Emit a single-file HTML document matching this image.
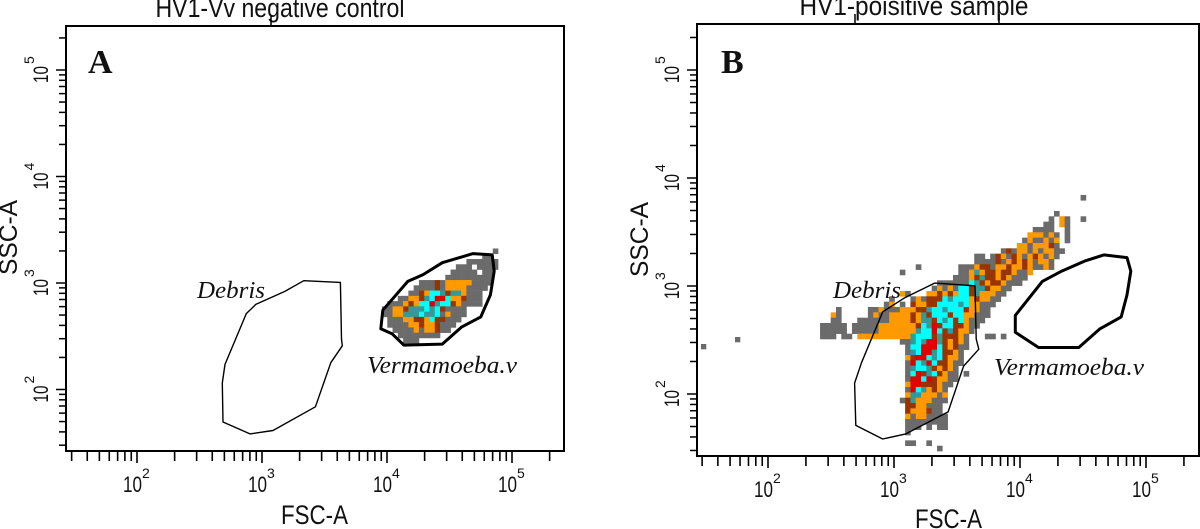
<!DOCTYPE html>
<html><head><meta charset="utf-8"><style>
html,body{margin:0;padding:0;background:#fff;}
svg{display:block;}
</style></head><body>
<svg id="fig" width="1200" height="529" viewBox="0 0 1200 529" xmlns="http://www.w3.org/2000/svg" font-family="Liberation Sans, sans-serif"></svg>
<script>
// ---- data (log10 units) ----
const xTickExponents = ['2','3','4','5'];
const yTickExponents = ['2','3','4','5'];
const tickDecades = [1,2,3,4,5];
const tickMultipliers = [1,2,3,4,5,6,7,8,9];
const tickMin = 30, tickMax = 200000;

const debrisGateA_x = [3.334,3.627,3.636,3.642,3.550,3.427,3.088,2.904,2.688,2.682,2.704,2.874,2.950,3.181];
const debrisGateA_y = [3.022,3.006,2.474,2.410,2.252,1.838,1.615,1.583,1.695,2.061,2.236,2.713,2.799,2.920];
const vermGateA_x = [4.689,4.842,4.858,4.827,4.750,4.596,4.442,4.134,4.042,3.950,3.966,4.166,4.289,4.442];
const vermGateA_y = [3.276,3.264,3.111,2.888,2.682,2.586,2.426,2.417,2.522,2.570,2.745,3.015,3.079,3.191];
const debrisGateB_x = [3.322,3.643,3.652,3.673,3.552,3.429,3.094,2.910,2.697,2.687,2.742,2.910,3.078];
const debrisGateB_y = [3.027,3.002,2.509,2.415,2.258,1.834,1.631,1.583,1.709,2.101,2.290,2.760,2.886];
const vermGateB_x = [4.666,4.849,4.879,4.849,4.803,4.635,4.467,4.147,3.963,3.963,4.177,4.329,4.513];
const vermGateB_y = [3.288,3.263,3.137,2.918,2.714,2.604,2.431,2.431,2.572,2.728,3.043,3.137,3.231];

// density grid: origin (log x, log y top), bin size in log units; codes g o b t c r
const binDx = 0.0422, binDy = 0.0494;
const gridA_origin = [3.960, 3.324];
const gridA_rows = [
"21:g","19:gg","16:gggggg","14:ggg.gggg","13:ggggg.gg","12:ggggggggg",
"7:gggbgooooogggg","6:ggggbgoooogggg","5:ggbocctbttoggg","3:ggoobtcrrcoobggg",
"1:gggoboccrtccbogggg","0:ggoobtttctcbgggg","0:ggootttcttcgoggg","1:gggoobbocbbggg",
"1:ggggooboobggg","2:ggggogoobgg","3:gggggggg","4:ggg"];
const gridB_origin = [2.413, 3.843];
const gridB_rows = [
"49:g","","","44:g","43:g 45:og 49:g","42:gg 45:og","40:gggg 46:g","39:ooogog.g",
"38:goggogo.g","37:oogooobg","34:gbgoogogoogg","29:gg.gbogbogobogog","29:ggggbgobobogoog",
"18:g 26:gggobbgoobooboggog","15:g 26:ggotobbobboggo","25:gggobtbboboggg","22:ggggggctbobboggg",
"21:gogogccbttboogg","15:og 20:ooboboccbtooogg","13:g 17:gogbbbctcccoboogg","12:go.g.boobbcccctcooggg",
"3:g 9:ggogggooobbtcctcccboogg","2:og 9:goggoooobotbcccbccooggg","2:gg 7:ggggggoooobottbctcbcoggg",
"0:ggggg.gggggooooooobctrbccbbogg","0:ggggg.gggggoooooootccrcbtboog","0:ggg.gg.ooooooooootcccbtbbbog 31:gg.g",
"15:ggtctrrtbobog","16:gccrrrcbobgg","16:gtcrrtcbbog","16:obrrctcboog","16:grctrcbbogg","16:gtcctbobog",
"16:gcrbtcbogg.g","16:grrcrboogg","16:orrbbbogg","16:grctobog","16:ottooogo","15:gbtoooggg","16:bbooggg",
"16:booobgg","16:ogoogggg","16:gggggggg","16:ggg.g.gg","16:g","","16:gg..g","22:g"];
const outliersB_x = [1.738, 1.468];
const outliersB_y = [2.528, 2.463];

const palette = {g:'#6b6b6b', o:'#ff9900', b:'#993300', t:'#339999', c:'#00ffff', r:'#e00000'};
const NS = 'http://www.w3.org/2000/svg';
const svg = document.getElementById('fig');
function mk(tag, attrs, parent){ const e=document.createElementNS(NS,tag); for(const k in attrs) e.setAttribute(k,attrs[k]); (parent||svg).appendChild(e); return e; }

function drawPanel(p){
  const g = mk('g',{});
  
  
  const X = lg => p.cx + (lg-3)*p.sx;
  const Y = lg => p.cy - (lg-3)*p.sy;
  const t = mk('text',{x:p.titleX, y:p.titleY, 'font-size':27, 'text-anchor':'middle', textLength:p.titleW, lengthAdjust:'spacingAndGlyphs', fill:'#111'}, g);
  t.textContent = p.title;
  
  
  p.topMarks.forEach(xx=>{ mk('line',{x1:xx,x2:xx,y1:p.y0-10,y2:p.y0,stroke:'#000','stroke-width':1.5}, g); });
  const cells = mk('g',{}, g);
  
  
  const w = binDx*p.sx, h = binDy*p.sy;
  p.rows.forEach((row, r)=>{
    if(!row) return;
    row.split(' ').forEach(seg=>{
      const [s, codes] = seg.split(':');
      for(let i=0;i<codes.length;i++){
        const ch = codes[i]; if(ch==='.') continue;
        const lx = p.origin[0] + (parseInt(s)+i)*binDx;
        const ly = p.origin[1] - r*binDy;
        const rc = mk('rect',{x:X(lx).toFixed(2), y:Y(ly).toFixed(2), width:(w+0.3).toFixed(2), height:(h+0.3).toFixed(2), fill:palette[ch]}, cells);
        
        
      }
    });
  });
  p.outX.forEach((lx,i)=>{
    const rc = mk('rect',{x:X(lx), y:Y(p.outY[i]), width:w, height:h, fill:palette.g}, cells);
    
    
  });
  const poly = (xs, ys, sw, name)=>{
    const pts = xs.map((v,i)=>X(v).toFixed(1)+','+Y(ys[i]).toFixed(1)).join(' ');
    const e = mk('polygon',{points:pts, fill:'none', stroke:'#000', 'stroke-width':sw, 'stroke-linejoin':'round'}, g);
    
    
  };
  poly(p.debX, p.debY, 1.4, 'debris-gate-'+p.id);
  poly(p.vX, p.vY, 3, 'vermamoeba-gate-'+p.id);
  const box = mk('rect',{x:p.x0, y:p.y0, width:p.x1-p.x0, height:p.y1-p.y0, fill:'none', stroke:'#000','stroke-width':2}, g);
  
  
  tickDecades.forEach(d=>tickMultipliers.forEach(m=>{
    const v = m*Math.pow(10,d); if(v<tickMin||v>tickMax) return;
    const lg = Math.log10(v);
    const xx = X(lg);
    const tx = mk('line',{x1:xx,x2:xx,y1:p.y1,y2:p.y1+(m===1?12:10),stroke:'#000','stroke-width':1.6}, g);
    
    
    const yy = Y(lg);
    const ty = mk('line',{x1:p.x0-(m===1?10:7),x2:p.x0,y1:yy,y2:yy,stroke:'#000','stroke-width':1.5}, g);
    
    
  }));
  xTickExponents.forEach(ex=>{
    const xx = X(+ex);
    const tl = mk('text',{x:xx-14, y:p.xLabY, 'font-size':22, textLength:19, lengthAdjust:'spacingAndGlyphs', fill:'#111'}, g);
    tl.textContent = '10';
    
    
    const te = mk('text',{x:xx+5, y:p.xLabY-14, 'font-size':14, fill:'#111'}, g);
    te.textContent = ex;
    
    
  });
  yTickExponents.forEach(ex=>{
    const yy = Y(+ex);
    const tl = mk('text',{x:0, y:0, 'font-size':21, textLength:17, lengthAdjust:'spacingAndGlyphs', fill:'#111', transform:`translate(${p.yLabX},${yy+13}) rotate(-90)`}, g);
    tl.textContent = '10';
    
    
    const te = mk('text',{x:0, y:0, 'font-size':14, fill:'#111', transform:`translate(${p.yLabX-14},${yy-6}) rotate(-90)`}, g);
    te.textContent = ex;
    
    
  });
  const xt = mk('text',{x:p.xTitleX, y:p.xTitleY, 'font-size':27, textLength:67, lengthAdjust:'spacingAndGlyphs', fill:'#111'}, g);
  xt.textContent = 'FSC-A';
  
  
  const yt = mk('text',{x:0, y:0, 'font-size':25, textLength:75, lengthAdjust:'spacingAndGlyphs', fill:'#111', transform:`translate(${p.yTitleX},${p.yTitleY}) rotate(-90)`}, g);
  yt.textContent = 'SSC-A';
  
  
  const L = mk('text',{x:p.letterX, y:73, 'font-size':34, 'font-weight':'bold', 'font-family':'Liberation Serif, serif', fill:'#111'}, g);
  L.textContent = p.id;
  
  
  const d = mk('text',{x:p.debLX, y:298, 'font-size':24, 'font-style':'italic', textLength:68, lengthAdjust:'spacingAndGlyphs', 'font-family':'Liberation Serif, serif', fill:'#111'}, g);
  d.textContent = 'Debris';
  
  
  const v = mk('text',{x:p.vLX, y:p.vLY, 'font-size':24, 'font-style':'italic', textLength:150, lengthAdjust:'spacingAndGlyphs', 'font-family':'Liberation Serif, serif', fill:'#111'}, g);
  v.textContent = 'Vermamoeba.v';
  
  
}

drawPanel({id:'A', title:'HV1-Vv negative control', titleX:280, titleY:17, titleW:249, topMarks:[271],
  x0:66,x1:564,y0:26,y1:451, cx:262, sx:125, cy:283, sy:106.5,
  origin:gridA_origin, rows:gridA_rows, outX:[], outY:[],
  debX:debrisGateA_x, debY:debrisGateA_y, vX:vermGateA_x, vY:vermGateA_y,
  xLabY:492, yLabX:48, xTitleX:281, xTitleY:524, yTitleX:17, yTitleY:275,
  letterX:88, debLX:197, vLX:367, vLY:373});
drawPanel({id:'B', title:'HV1-poisitive sample', titleX:914, titleY:15, titleW:229, topMarks:[855,999],
  x0:697,x1:1199,y0:24,y1:456, cx:894, sx:126, cy:286, sy:108,
  origin:gridB_origin, rows:gridB_rows, outX:outliersB_x, outY:outliersB_y,
  debX:debrisGateB_x, debY:debrisGateB_y, vX:vermGateB_x, vY:vermGateB_y,
  xLabY:497, yLabX:679, xTitleX:915, xTitleY:528, yTitleX:648, yTitleY:277,
  letterX:721, debLX:833, vLX:994, vLY:375});
</script>
</body></html>
